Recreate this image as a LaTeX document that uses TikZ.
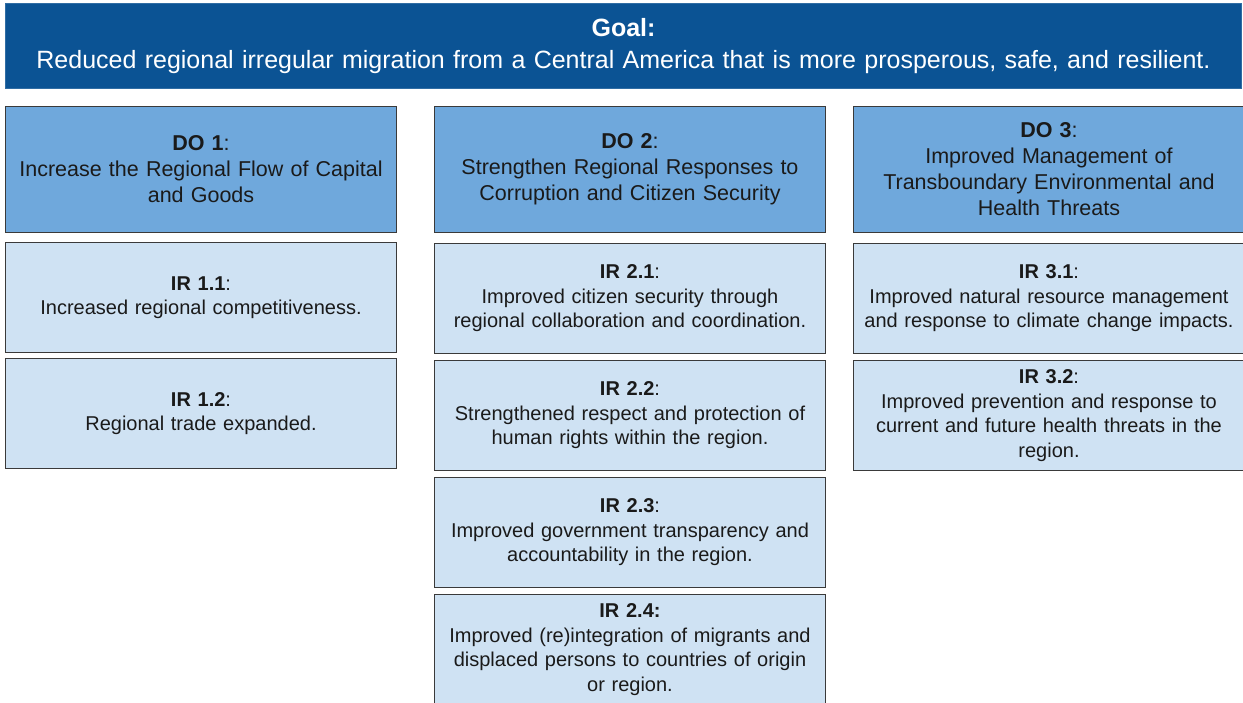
\documentclass[tikz,border=0pt]{standalone}
\usepackage{fontspec}
\setmainfont{Liberation Sans}
\usetikzlibrary{positioning}
\tikzstyle{frame} = [x = 1pt, y = -1pt]
\definecolor{goalColor}{HTML}{0B5394}
\definecolor{doColor}{HTML}{6FA8DC}
\definecolor{irColor}{HTML}{CFE2F3}
\definecolor{edgeColor}{HTML}{3A3A3A}
\definecolor{inkColor}{HTML}{1A1A1A}
\tikzstyle{boxStyle} = [draw=edgeColor, line width=1pt, anchor=north west, inner sep=0pt, minimum width=391pt, text width=389pt, align=center, text=inkColor]
\tikzstyle{goalStyle} = [boxStyle, fill=goalColor, draw=goalColor!85!white, minimum width=1236pt, text width=1230pt, minimum height=85pt, text=white, font=\fontsize{25}{32}\selectfont]
\tikzstyle{doStyle} = [boxStyle, fill=doColor, minimum height=126pt, font=\fontsize{21.5}{26}\selectfont]
\tikzstyle{irStyle} = [boxStyle, fill=irColor, minimum height=110pt, font=\fontsize{20}{24.5}\selectfont]
\newcommand{\doBox}[4]{\node [doStyle] (#1) at (#2, #3) {#4};}
\newcommand{\irBox}[4]{\node [irStyle] (#1) at (#2, #3) {#4};}

\begin{document}
\begin{tikzpicture}[frame]
  \useasboundingbox (0,0) rectangle (1243,702);
  \node [goalStyle] (goal) at (5,3) {\textbf{Goal:}\\Reduced regional irregular migration from a Central America that is more prosperous, safe, and resilient.};

  % column 1
  \doBox{do1}{5}{106}{\textbf{DO 1}:\\Increase the Regional Flow of Capital\\and Goods}
  \irBox{ir11}{5}{242}{\textbf{IR 1.1}:\\Increased regional competitiveness.}
  \irBox{ir12}{5}{358}{\textbf{IR 1.2}:\\Regional trade expanded.}

  % column 2
  \doBox{do2}{434}{106}{\textbf{DO 2}:\\Strengthen Regional Responses to\\Corruption and Citizen Security}
  \irBox{ir21}{434}{243}{\textbf{IR 2.1}:\\Improved citizen security through\\regional collaboration and coordination.}
  \irBox{ir22}{434}{360}{\textbf{IR 2.2}:\\Strengthened respect and protection of\\human rights within the region.}
  \irBox{ir23}{434}{477}{\textbf{IR 2.3}:\\Improved government transparency and\\accountability in the region.}
  \irBox{ir24}{434}{594}{\textbf{IR 2.4:}\\Improved (re)integration of migrants and\\displaced persons to countries of origin\\or region.}

  % column 3
  \doBox{do3}{853}{106}{\textbf{DO 3}:\\Improved Management of\\Transboundary Environmental and\\Health Threats}
  \irBox{ir31}{853}{243}{\textbf{IR 3.1}:\\Improved natural resource management\\and response to climate change impacts.}
  \irBox{ir32}{853}{360}{\textbf{IR 3.2}:\\Improved prevention and response to\\current and future health threats in the\\region.}
\end{tikzpicture}
\end{document}
